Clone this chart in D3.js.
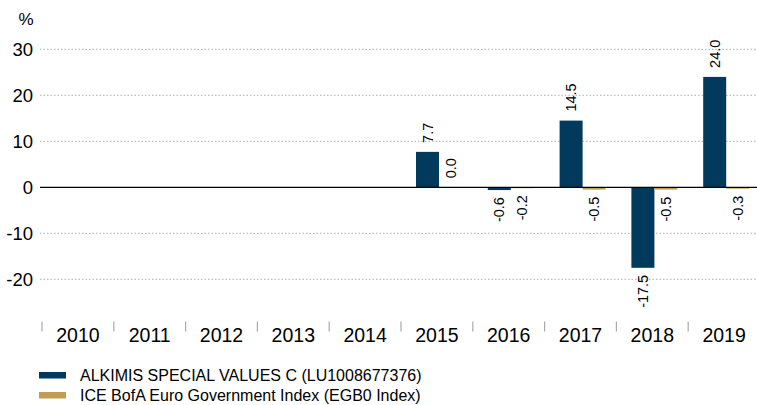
<!DOCTYPE html>
<html>

<head>
	<meta charset="utf-8">
	<script src="https://cdn.jsdelivr.net/npm/d3@7"></script>
	<style>
		body {
			margin: 0;
			background: #fff;
		}

		text {
			font-family: "Liberation Sans", Arial, sans-serif;
			fill: #000;
		}

		.grid {
			stroke: #b0b0b0;
			stroke-width: 1;
			stroke-dasharray: 1.5, 2;
		}
	</style>
</head>

<body>
	<svg></svg>
	<script>
		var years = ["2010", "2011", "2012", "2013", "2014", "2015", "2016", "2017", "2018", "2019"];
		var seriesNames = ["ALKIMIS SPECIAL VALUES C (LU1008677376)", "ICE BofA Euro Government Index (EGB0 Index)"];
		var fundValues = [null, null, null, null, null, 7.7, -0.6, 14.5, -17.5, 24.0];
		var indexValues = [null, null, null, null, null, 0.0, -0.2, -0.5, -0.5, -0.3];
		var yTicks = [-20, -10, 0, 10, 20, 30];
		var colors = ["#023a5d", "#c09c55"];

		var width = 757;
		var height = 405;

		var svg = d3.select("svg")
			.attr("width", width)
			.attr("height", height);

		var x0 = d3.scaleBand()
			.domain(years)
			.range([42, 760]);

		var x1 = d3.scaleBand()
			.domain([0, 1])
			.range([15, 61]);

		var y = d3.scaleLinear()
			.domain([-30, 30])
			.range([325.3, 49.3]);

		// gridlines
		svg.selectAll(".grid")
			.data(yTicks.filter(d => d != 0))
			.enter()
			.append("line")
			.attr("class", "grid")
			.attr("x1", 40)
			.attr("x2", width)
			.attr("y1", d => y(d))
			.attr("y2", d => y(d));

		// y tick labels
		svg.selectAll(".ylab")
			.data(yTicks)
			.enter()
			.append("text")
			.attr("class", "ylab")
			.attr("x", 33)
			.attr("y", d => y(d))
			.attr("dy", "0.36em")
			.attr("text-anchor", "end")
			.style("font-size", "18.5px")
			.text(d => d);

		svg.append("text")
			.attr("x", 33.5)
			.attr("y", 25)
			.attr("text-anchor", "end")
			.style("font-size", "17px")
			.text("%");

		// bars
		var rows = [];
		years.forEach((yr, i) => {
			[fundValues[i], indexValues[i]].forEach((v, s) => {
				if (v !== null) rows.push({ year: yr, s: s, v: v });
			});
		});

		var groups = svg.selectAll(".bar")
			.data(rows)
			.enter()
			.append("g")
			.attr("class", "bar");

		groups.append("rect")
			.attr("x", d => x0(d.year) + x1(d.s))
			.attr("width", x1.bandwidth())
			.attr("y", d => y(Math.max(0, d.v)))
			.attr("height", d => Math.abs(y(d.v) - y(0)))
			.style("fill", d => colors[d.s]);

		groups.append("text")
			.attr("transform", d => {
				var cx = x0(d.year) + x1(d.s) + x1.bandwidth() / 2;
				var cy = d.v >= 0 ? y(d.v) - 9 : y(d.v) + 7;
				return "translate(" + cx + "," + cy + ") rotate(-90)";
			})
			.attr("dy", "0.35em")
			.attr("text-anchor", d => d.v >= 0 ? "start" : "end")
			.style("font-size", "14.5px")
			.text(d => d.v.toFixed(1));

		// zero line
		svg.append("line")
			.attr("x1", 40)
			.attr("x2", width)
			.attr("y1", y(0))
			.attr("y2", y(0))
			.style("stroke", "#000")
			.style("stroke-width", 1.3);

		// x axis ticks and labels
		svg.selectAll(".xtick")
			.data(years)
			.enter()
			.append("line")
			.attr("class", "xtick")
			.attr("x1", d => x0(d))
			.attr("x2", d => x0(d))
			.attr("y1", 321.5)
			.attr("y2", 331.5)
			.style("stroke", "#aaa")
			.style("stroke-width", 1.2);

		svg.selectAll(".xlab")
			.data(years)
			.enter()
			.append("text")
			.attr("class", "xlab")
			.attr("x", d => x0(d) + x0.bandwidth() / 2)
			.attr("y", 341.5)
			.attr("text-anchor", "middle")
			.style("font-size", "19.5px")
			.text(d => d);

		// legend
		var legend = svg.selectAll(".legend")
			.data(seriesNames)
			.enter()
			.append("g")
			.attr("class", "legend")
			.attr("transform", (d, i) => "translate(39," + (372 + i * 20) + ")");

		legend.append("rect")
			.attr("width", 27)
			.attr("height", 6.5)
			.style("fill", (d, i) => colors[i]);

		legend.append("text")
			.attr("x", 41)
			.attr("y", 9)
			.style("font-size", "16px")
			.text(d => d);
	</script>
</body>

</html>
